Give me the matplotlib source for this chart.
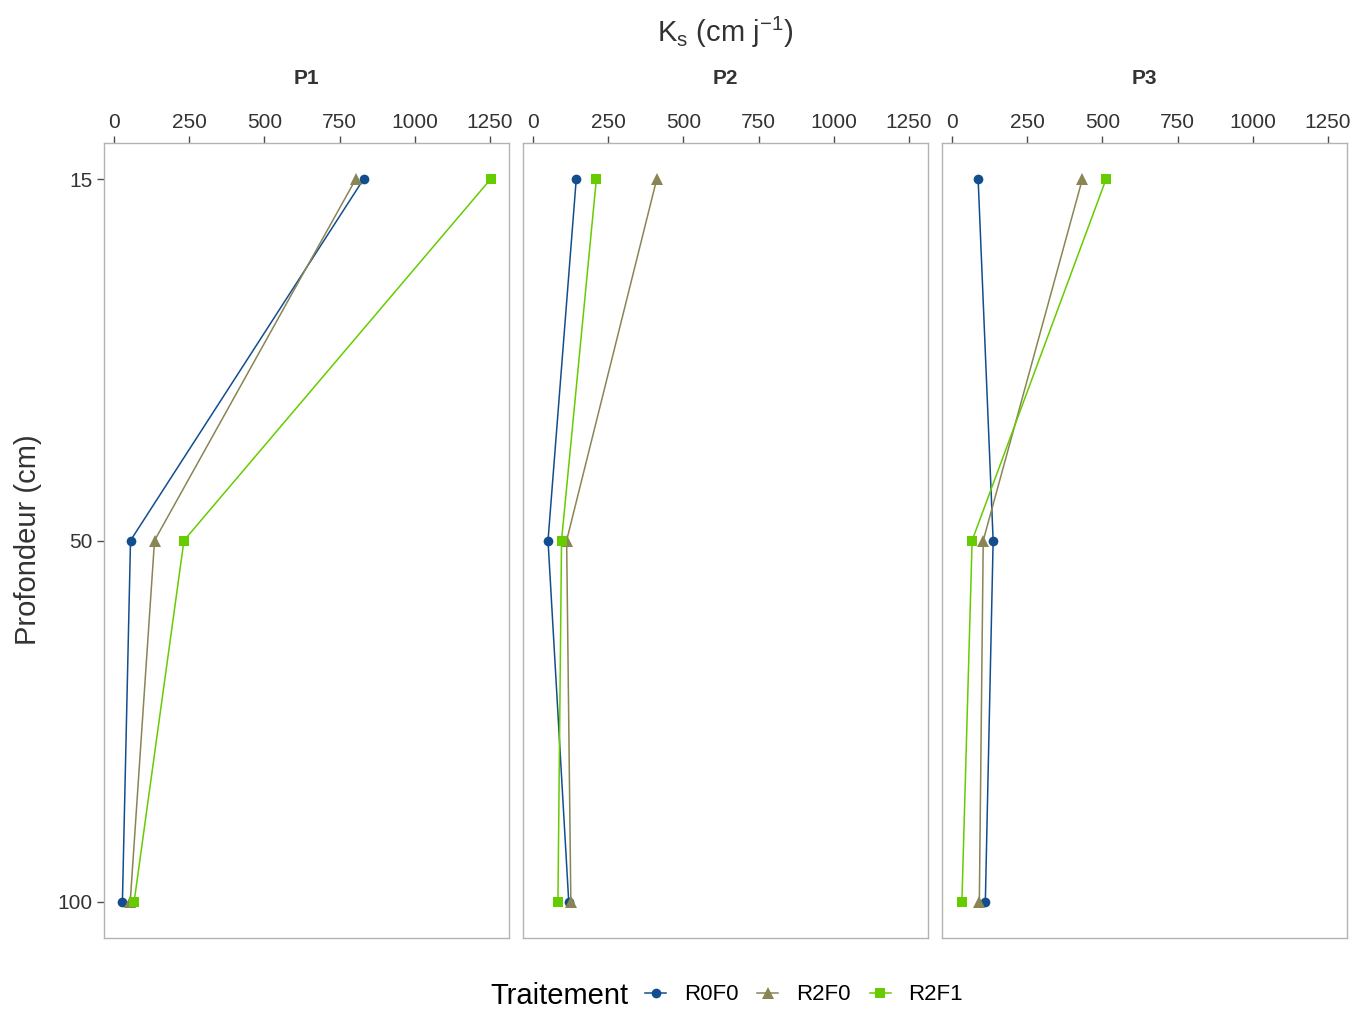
import matplotlib
matplotlib.use("Agg")
import matplotlib.pyplot as plt
from matplotlib.lines import Line2D

plt.rcParams['font.family'] = ['Liberation Sans', 'DejaVu Sans']
plt.rcParams['mathtext.fontset'] = 'custom'
plt.rcParams['mathtext.rm'] = 'Liberation Sans'
plt.rcParams['mathtext.it'] = 'Liberation Sans'

panels = ["P1", "P2", "P3"]
depths = ["15", "50", "100"]
treatments = ["R0F0", "R2F0", "R2F1"]

p1_R0F0 = [830, 54, 27]
p1_R2F0 = [804, 134, 53]
p1_R2F1 = [1253, 232, 66]
p2_R0F0 = [143, 49, 118]
p2_R2F0 = [411, 111, 125]
p2_R2F1 = [210, 94, 82]
p3_R0F0 = [86, 136, 110]
p3_R2F0 = [433, 103, 90]
p3_R2F1 = [512, 66, 32]

data = {
    "P1": {"R0F0": p1_R0F0, "R2F0": p1_R2F0, "R2F1": p1_R2F1},
    "P2": {"R0F0": p2_R0F0, "R2F0": p2_R2F0, "R2F1": p2_R2F1},
    "P3": {"R0F0": p3_R0F0, "R2F0": p3_R2F0, "R2F1": p3_R2F1},
}

xticks = [0, 250, 500, 750, 1000, 1250]

colors = {"R0F0": "#124E8E", "R2F0": "#8A8554", "R2F1": "#66CC00"}
markers = {"R0F0": "o", "R2F0": "^", "R2F1": "s"}
msizes = {"R0F0": 7, "R2F0": 8.5, "R2F1": 7}

W, H = 1357, 1009
fig = plt.figure(figsize=(W / 100, H / 100), dpi=100)

lefts = [104, 523, 942]
pw = 405
top, bottom = 143, 938

allvals = [v for p in data.values() for s in p.values() for v in s]
lo, hi = min(allvals), max(allvals)
pad = 0.05 * (hi - lo)

ypos = list(range(len(depths)))

for i, (pname, left) in enumerate(zip(panels, lefts)):
    ax = fig.add_axes([left / W, 1 - bottom / H, pw / W, (bottom - top) / H])
    for t in treatments:
        ax.plot(data[pname][t], ypos, color=colors[t], marker=markers[t],
                markersize=msizes[t], linewidth=1.1, markeredgewidth=0)
    ax.set_xlim(lo - pad, hi + pad)
    ax.set_ylim(len(depths) - 1 + 0.1, -0.1)
    ax.xaxis.tick_top()
    ax.set_xticks(xticks)
    ax.set_xticklabels([str(x) for x in xticks])
    ax.set_yticks(ypos)
    ax.tick_params(axis='both', labelsize=15, colors='#4d4d4d', labelcolor='#333333',
                   length=5, width=1.0, pad=3)
    if i == 0:
        ax.set_yticklabels(depths)
    else:
        ax.set_yticklabels([])
        ax.tick_params(axis='y', length=0)
    for s in ax.spines.values():
        s.set_color('#b3b3b3')
        s.set_linewidth(1.0)
    ax.text(0.5, 1 + (143 - 78) / (bottom - top), pname, transform=ax.transAxes,
            ha='center', va='center', fontsize=15, fontweight='bold', color='#333333')

fig.text(725 / W, 1 - 32 / H, r'K$_\mathregular{s}$ (cm j$^{\mathregular{-1}}$)',
         ha='center', va='center', fontsize=21, color='#333333')
fig.text(28 / W, 1 - 540 / H, 'Profondeur (cm)', rotation=90,
         ha='center', va='center', fontsize=21, color='#333333')

fig.text(490 / W, 1 - 996 / H, 'Traitement', ha='left', va='center',
         fontsize=21, color='black')
handles = [Line2D([0], [0], color=colors[t], marker=markers[t], markersize=msizes[t],
                  linewidth=1.1, markeredgewidth=0) for t in treatments]
fig.legend(handles, treatments, loc='center left', bbox_to_anchor=(645 / W, 1 - 995 / H),
           ncol=3, frameon=False, fontsize=16, handlelength=0.95, handletextpad=0.8,
           columnspacing=0.85, borderpad=0, borderaxespad=0)

fig.savefig("out.png", dpi=100)
